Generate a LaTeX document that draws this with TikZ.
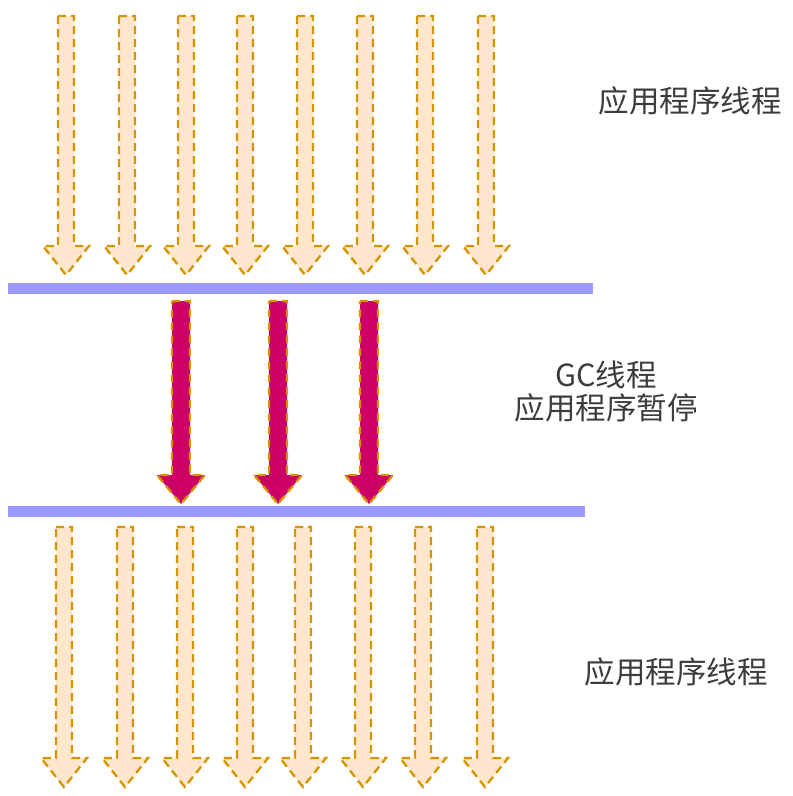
\documentclass[tikz,border=0pt]{standalone}
\usepackage{fontspec}
\setmainfont{Noto Sans CJK SC}
\usetikzlibrary{positioning}
\definecolor{peach}{RGB}{255,230,204}
\definecolor{gold}{RGB}{212,150,0}
\definecolor{gcred}{RGB}{204,0,102}
\definecolor{barblue}{RGB}{153,153,255}
\definecolor{ink}{RGB}{60,60,60}
\tikzset{
  every picture/.style={x=1pt, y=-1pt},
  thread/.style={fill=peach, draw=gold, line width=2.3pt, dash pattern=on 8pt off 5pt},
  gcthread/.style={thread, fill=gcred},
  bar/.style={fill=barblue, draw=none, inner sep=0pt, minimum height=11pt, anchor=north west},
  lbl/.style={font=\fontsize{30.5}{33}\selectfont, text=ink, align=center, inner sep=0pt},
}
% one thread: [style]{x}{top}{tip}{shaft half width}{head half width}
\newcommand{\threadarrow}[6][thread]{%
  \draw[#1] (#2-#5,#3) -- (#2+#5,#3) -- (#2+#5,#4-29) -- (#2+#6,#4-29) -- (#2,#4)
    -- (#2-#6,#4-29) -- (#2-#5,#4-29) -- cycle;}

\begin{document}
\begin{tikzpicture}
  \useasboundingbox (0,0) rectangle (793,796);
  % application threads before the pause
  \foreach \x in {66,127,186,245,305,365,425,486} { \threadarrow{\x}{16}{275}{8}{23} }
  \node[bar, minimum width=585pt] (stop) at (8,283) {};
  % gc threads
  \foreach \x in {181,278,369} { \threadarrow[gcthread]{\x}{301}{504}{9}{24} }
  \node[bar, minimum width=577pt] (resume) at (8,506) {};
  % application threads after the pause
  \foreach \x in {64,125,185,245,303,363,423,485} { \threadarrow{\x}{527}{787}{8}{23} }
  \node[lbl] (apptop) at (690,101) {应用程序线程};
  \node[lbl] (gc) at (606,391) {GC线程\\应用程序暂停};
  \node[lbl] (appbot) at (676,672) {应用程序线程};
\end{tikzpicture}
\end{document}
